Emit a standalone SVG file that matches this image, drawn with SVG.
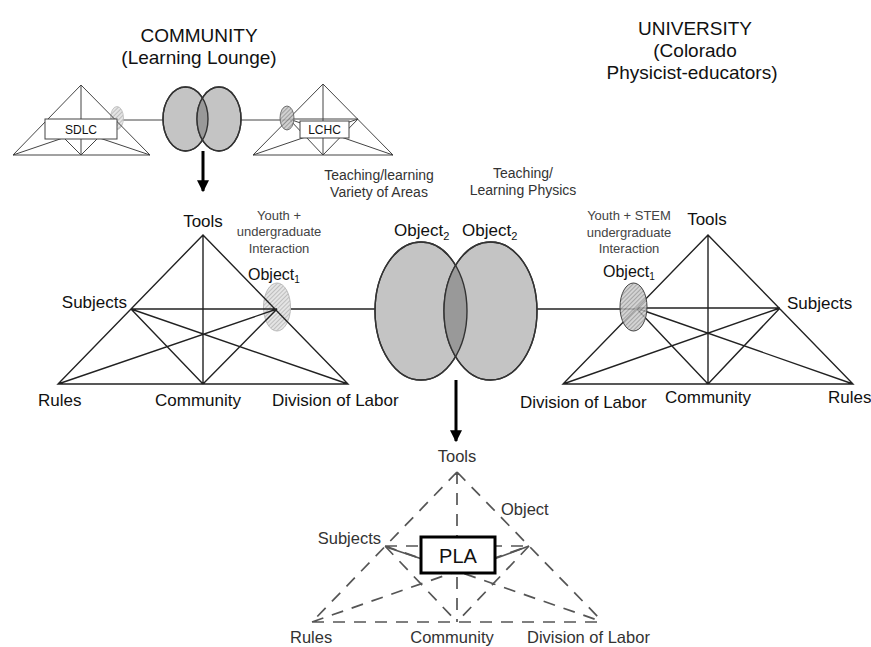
<svg xmlns="http://www.w3.org/2000/svg" width="871" height="647" viewBox="0 0 871 647">
<style>
text{font-family:"Liberation Sans",Arial,sans-serif;fill:#111}
.t{font-size:19px}
.lb{font-size:17px}
.sm{font-size:13px;fill:#444}
.md{font-size:14px;fill:#333}
.ln{stroke:#222;stroke-width:1.4;fill:none}
.sln{stroke:#444;stroke-width:1;fill:none}
.dl{stroke:#555;stroke-width:1.7;fill:none;stroke-dasharray:12 9}
.sd{stroke:#555;stroke-width:1.7;fill:none}
.bl{font-size:16.5px;fill:#333}
.ell{fill:#c4c4c4;stroke:#333;stroke-width:1.4}
.ov{fill:#999}
.eo{fill:none;stroke:#333;stroke-width:1.4}
</style>
<defs>
<pattern id="hl" patternUnits="userSpaceOnUse" width="3" height="3" patternTransform="rotate(45)">
<rect width="3" height="3" fill="#e4e4e4"/><line x1="0" y1="0" x2="0" y2="3" stroke="#999" stroke-width="1"/>
</pattern>
<pattern id="hd" patternUnits="userSpaceOnUse" width="3" height="3" patternTransform="rotate(45)">
<rect width="3" height="3" fill="#c8c8c8"/><line x1="0" y1="0" x2="0" y2="3" stroke="#555" stroke-width="1"/>
</pattern>
<clipPath id="cTop"><ellipse cx="185.5" cy="119" rx="22.5" ry="32"/></clipPath>
<clipPath id="cMid"><ellipse cx="421" cy="311" rx="46" ry="69"/></clipPath>
<marker id="ah" viewBox="0 0 10 10" refX="9" refY="5" markerWidth="4" markerHeight="4" orient="auto">
<path d="M0,0 L10,5 L0,10 z" fill="#000"/>
</marker>
</defs>

<g id="title-community">
<text class="t" x="199" y="42" text-anchor="middle">COMMUNITY</text>
<text class="t" x="199" y="64" text-anchor="middle">(Learning Lounge)</text>
</g>
<g id="title-university">
<text class="t" x="695" y="35" text-anchor="middle">UNIVERSITY</text>
<text class="t" x="695" y="57" text-anchor="middle">(Colorado</text>
<text class="t" x="692" y="79" text-anchor="middle">Physicist-educators)</text>
</g>

<g id="connectors">
<line class="sln" x1="117" y1="120" x2="163" y2="120"/>
<line class="sln" x1="241" y1="120" x2="289" y2="120"/>
<line class="ln" x1="277" y1="309" x2="375" y2="309"/>
<line class="ln" x1="537" y1="309" x2="636" y2="309"/>
<line x1="203" y1="151" x2="203" y2="191" stroke="#000" stroke-width="3" marker-end="url(#ah)"/>
<line x1="456" y1="380" x2="456" y2="441" stroke="#000" stroke-width="3" marker-end="url(#ah)"/>
</g>

<g id="sdlc">
<ellipse cx="117" cy="118" rx="6.5" ry="11.5" fill="url(#hl)" stroke="#bbb" stroke-width="0.8"/>
<path class="sln" d="M81,85 L13,155 L150,155 Z M81,85 L81,155 M46,120 L116,120 M46,120 L81,155 L116,120 M46,120 L150,155 M13,155 L116,120"/>
<rect x="45" y="119" width="72" height="20" fill="#fff" stroke="#444" stroke-width="1"/>
<text x="81" y="134" font-size="12" text-anchor="middle" fill="#222">SDLC</text>
</g>

<g id="top-venn">
<ellipse class="ell" cx="185.5" cy="119" rx="22.5" ry="32"/>
<ellipse class="ell" cx="219" cy="119" rx="22" ry="32"/>
<ellipse class="ov" cx="219" cy="119" rx="22" ry="32" clip-path="url(#cTop)"/>
<ellipse class="eo" cx="185.5" cy="119" rx="22.5" ry="32"/>
<ellipse class="eo" cx="219" cy="119" rx="22" ry="32"/>
</g>

<g id="lchc">
<path class="sln" d="M323,84 L253,155 L393,155 Z M323,84 L323,155 M289,119 L358,119 M289,119 L323,155 L358,119 M289,119 L393,155 M253,155 L358,119"/>
<ellipse cx="287" cy="118" rx="7" ry="12" fill="url(#hd)" fill-opacity="0.85" stroke="#555" stroke-width="0.8"/>
<rect x="300" y="121" width="49" height="17" fill="#fff" stroke="#444" stroke-width="1"/>
<text x="324.5" y="134" font-size="12" text-anchor="middle" fill="#222">LCHC</text>
</g>

<g id="labels-mid">
<text class="md" x="379" y="180" text-anchor="middle">Teaching/learning</text>
<text class="md" x="379" y="197" text-anchor="middle">Variety of Areas</text>
<text class="md" x="523" y="178" text-anchor="middle">Teaching/</text>
<text class="md" x="523" y="195" text-anchor="middle">Learning Physics</text>
</g>

<g id="left-activity">
<ellipse cx="277" cy="307" rx="13.5" ry="24" fill="url(#hl)" stroke="#bbb" stroke-width="1"/>
<path class="ln" d="M203,235 L58,384 L348,384 Z M203,235 L203,384 M131,309 L277,309 M131,309 L203,384 L277,309 M131,309 L348,384 M58,384 L277,309"/>
<text class="lb" x="203" y="227" text-anchor="middle">Tools</text>
<text class="lb" x="127" y="308" text-anchor="end">Subjects</text>
<text class="lb" x="38" y="406">Rules</text>
<text class="lb" x="198" y="406" text-anchor="middle">Community</text>
<text class="lb" x="272" y="406">Division of Labor</text>
<text class="sm" x="279" y="220" text-anchor="middle">Youth +</text>
<text class="sm" x="279" y="236" text-anchor="middle">undergraduate</text>
<text class="sm" x="279" y="253" text-anchor="middle">Interaction</text>
<text x="248" y="280" font-size="16">Object<tspan font-size="10" dy="3">1</tspan></text>
</g>

<g id="center-venn">
<ellipse class="ell" cx="421" cy="311" rx="46" ry="69"/>
<ellipse class="ell" cx="490.5" cy="311" rx="46.5" ry="69"/>
<ellipse class="ov" cx="490.5" cy="311" rx="46.5" ry="69" clip-path="url(#cMid)"/>
<ellipse class="eo" cx="421" cy="311" rx="46" ry="69"/>
<ellipse class="eo" cx="490.5" cy="311" rx="46.5" ry="69"/>
<text x="394" y="236" font-size="17">Object<tspan font-size="11" dy="4">2</tspan></text>
<text x="462" y="236" font-size="17">Object<tspan font-size="11" dy="4">2</tspan></text>
</g>

<g id="right-activity">
<path class="ln" d="M708,235 L563,384 L853,384 Z M708,235 L708,384 M636,308 L780,308 M636,308 L708,384 L780,308 M636,308 L853,384 M563,384 L780,308"/>
<ellipse cx="633.5" cy="307" rx="13.5" ry="24" fill="url(#hd)" fill-opacity="0.8" stroke="#444" stroke-width="1"/>
<text class="lb" x="707" y="225" text-anchor="middle">Tools</text>
<text class="lb" x="787" y="309">Subjects</text>
<text class="lb" x="520" y="408">Division of Labor</text>
<text class="lb" x="708" y="403" text-anchor="middle">Community</text>
<text class="lb" x="828" y="403">Rules</text>
<text class="sm" x="629" y="220" text-anchor="middle">Youth + STEM</text>
<text class="sm" x="629" y="237" text-anchor="middle">undergraduate</text>
<text class="sm" x="629" y="253" text-anchor="middle">Interaction</text>
<text x="603" y="277" font-size="16">Object<tspan font-size="10" dy="3">1</tspan></text>
</g>

<g id="pla-activity">
<path class="dl" d="M457,472 L312,622 M457,472 L603,622 M312,622 L603,622 M457,472 L457,622 M385,546 L529,546 M385,546 L457,622 M529,546 L457,622 M385,546 L603,622 M312,622 L529,546"/>
<path class="sd" d="M386,547 L422,559 M529,546 L494,559 M420,573 L478,569"/>
<rect x="421" y="537" width="74" height="36" fill="#fff" stroke="#000" stroke-width="3"/>
<text x="458" y="563" font-size="20" text-anchor="middle">PLA</text>
<text class="bl" x="457" y="462" text-anchor="middle">Tools</text>
<text class="bl" x="501" y="515">Object</text>
<text class="bl" x="381" y="544" text-anchor="end">Subjects</text>
<text class="bl" x="290" y="643">Rules</text>
<text class="bl" x="452" y="643" text-anchor="middle">Community</text>
<text class="bl" x="527" y="643">Division of Labor</text>
</g>
</svg>
